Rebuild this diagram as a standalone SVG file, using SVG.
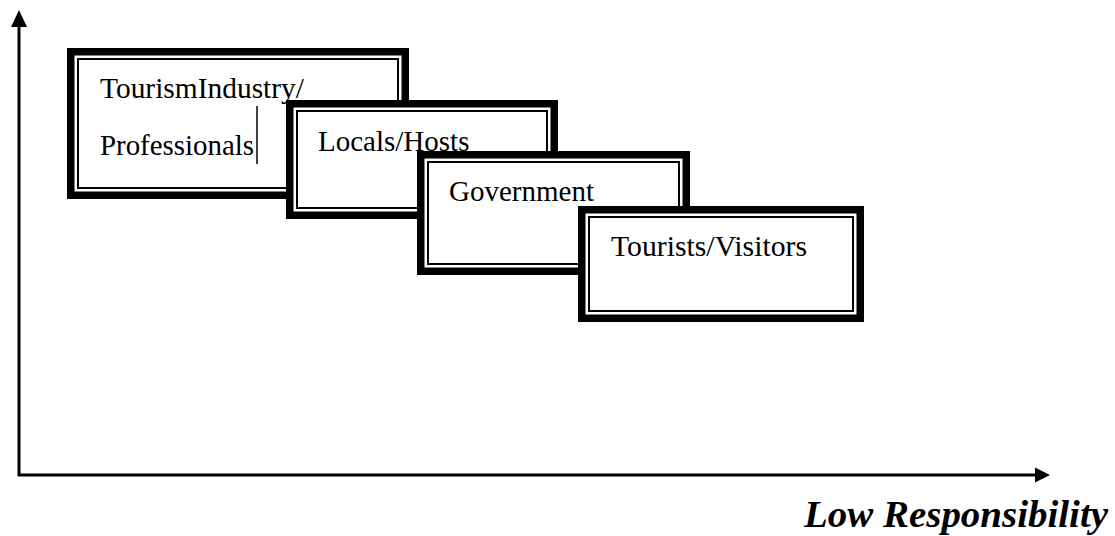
<svg xmlns="http://www.w3.org/2000/svg" width="1115" height="536" viewBox="0 0 1115 536">
  <style>
    .frame { fill: #ffffff; stroke: #000000; stroke-width: 7.5; }
    .rule { fill: none; stroke: #000000; stroke-width: 2; }
    .label { font-family: "Liberation Serif", "Times New Roman", serif; font-size: 29px; fill: #000000; }
    .axis { stroke: #000000; stroke-width: 3; fill: none; }
    .tip { fill: #000000; }
    .caption { font-family: "Liberation Serif", "Times New Roman", serif; font-size: 38px; font-weight: bold; font-style: italic; fill: #000000; }
  </style>

  <rect width="1115" height="536" fill="#ffffff"/>

  <!-- axes -->
  <g id="axes">
    <path class="axis" d="M19,476 V24"/>
    <polygon class="tip" points="19,10 11,27 27,27"/>
    <path class="axis" d="M18,475 H1036"/>
    <polygon class="tip" points="1050,475 1035,467.5 1035,482.5"/>
  </g>

  <!-- stakeholder boxes, drawn back to front -->
  <g id="node-industry">
    <rect class="frame" x="70.75" y="51.75" width="334.5" height="143.5"/>
    <rect class="rule" x="78" y="59" width="320" height="129"/>
    <text class="label" x="100" y="98" textLength="204" lengthAdjust="spacingAndGlyphs">TourismIndustry/</text>
    <text class="label" x="100" y="155" textLength="154" lengthAdjust="spacingAndGlyphs">Professionals</text>
    <line x1="257" y1="106" x2="257" y2="164" stroke="#000000" stroke-width="1.5"/>
  </g>

  <g id="node-locals">
    <rect class="frame" x="289.75" y="103.75" width="264.5" height="111.5"/>
    <rect class="rule" x="297" y="111" width="250" height="97"/>
    <text class="label" x="318" y="151">Locals/Hosts</text>
  </g>

  <g id="node-government">
    <rect class="frame" x="420.75" y="154.75" width="265.5" height="116.5"/>
    <rect class="rule" x="428" y="162" width="251" height="102"/>
    <text class="label" x="449" y="201">Government</text>
  </g>

  <g id="node-tourists">
    <rect class="frame" x="581.75" y="209.75" width="278.5" height="108.5"/>
    <rect class="rule" x="589" y="217" width="264" height="94"/>
    <text class="label" x="611" y="256" textLength="196" lengthAdjust="spacingAndGlyphs">Tourists/Visitors</text>
  </g>

  <!-- horizontal axis caption -->
  <text class="caption" x="804" y="527" textLength="304" lengthAdjust="spacingAndGlyphs">Low Responsibility</text>
</svg>
